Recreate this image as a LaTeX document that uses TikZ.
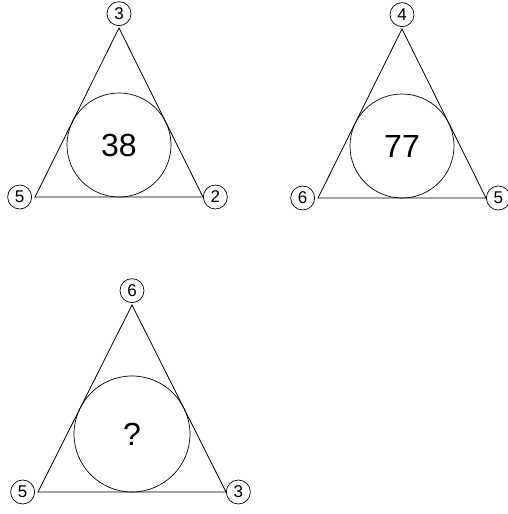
\documentclass[tikz,border=0pt]{standalone}
\usepackage{fontspec}
\setmainfont{Liberation Sans}
\usetikzlibrary{positioning}
\tikzset{
  side/.style={draw=black, line width=0.8pt},
  cornernum/.style={circle, draw=black, fill=white, line width=0.7pt, minimum size=24pt,
                    inner sep=0pt, font=\fontsize{17}{17}\selectfont},
  ring/.style={circle, draw=black, line width=0.7pt, inner sep=0pt,
               font=\fontsize{32}{32}\selectfont},
}
\begin{document}
\begin{tikzpicture}[x=1pt, y=-1pt]
\useasboundingbox (0,0) rectangle (508,514);

% first puzzle
\coordinate (a1) at (119,28);
\coordinate (l1) at (35,197);
\coordinate (r1) at (203,197);
\draw[side] (a1) -- (l1) -- (r1) -- cycle;
\node[ring, minimum size=104pt] (c1) at (119,145) {38};
\node[cornernum, above=2pt of a1] (t1) {3};
\node[cornernum, left=3pt of l1] (p1) {5};
\node[cornernum, right=0pt of r1] (q1) {2};

% second puzzle
\coordinate (a2) at (402,29);
\coordinate (l2) at (318,198);
\coordinate (r2) at (486,198);
\draw[side] (a2) -- (l2) -- (r2) -- cycle;
\node[ring, minimum size=104pt] (c2) at (402,146) {77};
\node[cornernum, above=2pt of a2] (t2) {4};
\node[cornernum, left=3pt of l2] (p2) {6};
\node[cornernum, right=0pt of r2] (q2) {5};

% third puzzle
\coordinate (a3) at (132,305);
\coordinate (l3) at (38,492);
\coordinate (r3) at (226,492);
\draw[side] (a3) -- (l3) -- (r3) -- cycle;
\node[ring, minimum size=116pt] (c3) at (132,434) {?};
\node[cornernum, above=2pt of a3] (t3) {6};
\node[cornernum, left=3pt of l3] (p3) {5};
\node[cornernum, right=0pt of r3] (q3) {3};
\end{tikzpicture}
\end{document}
